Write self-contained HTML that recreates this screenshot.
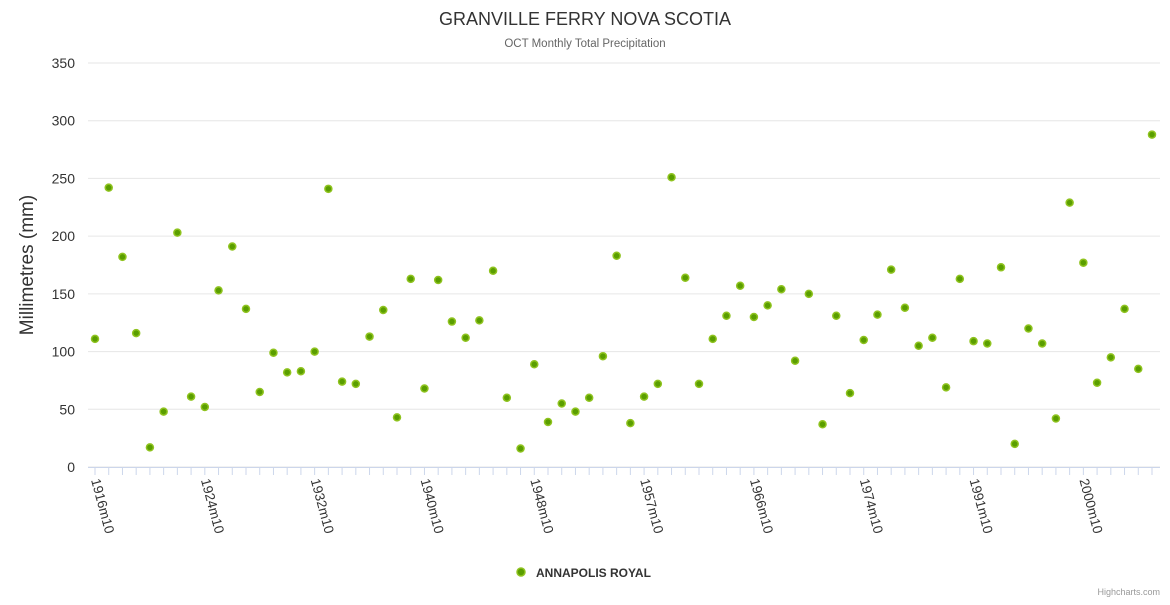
<!DOCTYPE html>
<html><head><meta charset="utf-8"><style>
body{margin:0;background:#fff;font-family:"Liberation Sans","DejaVu Sans",sans-serif;}
</style></head><body>
<svg id="chart" width="1170" height="600" xmlns="http://www.w3.org/2000/svg" style="font-family:'Liberation Sans','DejaVu Sans',sans-serif">
<text x="585" y="25" text-anchor="middle" font-size="18" fill="#333">GRANVILLE FERRY NOVA SCOTIA</text>
<text x="585" y="47" text-anchor="middle" font-size="11.5" fill="#666">OCT Monthly Total Precipitation</text>
<text transform="translate(33,265) rotate(-90)" text-anchor="middle" font-size="19" fill="#333">Millimetres (mm)</text>
<g id="grid"></g><g id="xaxis"></g><g id="points"></g>
<g>
<circle cx="521" cy="572" r="4" fill="#5a9e00" stroke="#8fc31f" stroke-width="1.5"/>
<text x="536" y="577" font-size="12" font-weight="bold" fill="#333">ANNAPOLIS ROYAL</text>
</g>
<text x="1160" y="595" text-anchor="end" font-size="9" fill="#999">Highcharts.com</text>
</svg>
<script>
const yTicks=[0,50,100,150,200,250,300,350];
const categories=[1916,1917,1918,1919,1920,1921,1922,1923,1924,1925,1926,1927,1928,1929,1930,1931,1932,1933,1934,1935,1936,1937,1938,1939,1940,1941,1942,1943,1944,1945,1946,1947,1948,1949,1951,1952,1953,1954,1955,1956,1957,1958,1959,1961,1962,1963,1964,1965,1966,1967,1968,1969,1970,1971,1972,1973,1974,1975,1976,1977,1978,1979,1980,1990,1991,1992,1993,1994,1996,1997,1998,1999,2000,2001,2002,2003,2004,2005].map(y=>y+'m10');
const values=[111,242,182,116,17,48,203,61,52,153,191,137,65,99,82,83,100,241,74,72,113,136,43,163,68,162,126,112,127,170,60,16,89,39,55,48,60,96,183,38,61,72,251,164,72,111,131,157,130,140,154,92,150,37,131,64,110,132,171,138,105,112,69,163,109,107,173,20,120,107,42,229,177,73,95,137,85,288];
const NS='http://www.w3.org/2000/svg';
const x0=95,x1=1152,yBase=467,yTop=63,left=88,right=1160;
const xs=i=>x0+(x1-x0)*i/(categories.length-1);
const ys=v=>yBase-(yBase-yTop)*v/350;
function mk(t,a,p){const e=document.createElementNS(NS,t);for(const k in a)e.setAttribute(k,a[k]);p.appendChild(e);return e;}
const grid=document.getElementById('grid');
yTicks.forEach(t=>{
  const l=mk('line',{x1:left,x2:right,y1:ys(t),y2:ys(t),stroke:'#e6e6e6'},grid);
  
  
  const tx=mk('text',{x:75,y:ys(t)+5,'text-anchor':'end','font-size':14,fill:'#333'},grid);
  tx.textContent=t;
  
  
});
const xa=document.getElementById('xaxis');
const ax=mk('line',{x1:left,x2:right,y1:yBase+0.5,y2:yBase+0.5,stroke:'#ccd6eb'},xa);


categories.forEach((c,i)=>{
  const x=xs(i);
  const tk=mk('line',{x1:x,x2:x,y1:yBase,y2:yBase+8,stroke:'#ccd6eb'},xa);
  
  
  if(i%8===0){
    const t=mk('text',{transform:`translate(${x-4},${yBase+13}) rotate(75)`,'font-size':13.5,fill:'#333'},xa);
    t.textContent=c;
    
    
  }
});
const pts=document.getElementById('points');
values.forEach((v,i)=>{
  const c=mk('circle',{cx:xs(i),cy:ys(v),r:3.5,fill:'#5a9e00',stroke:'#8fc31f','stroke-width':1.5},pts);
  
  
});
</script>
</body></html>
